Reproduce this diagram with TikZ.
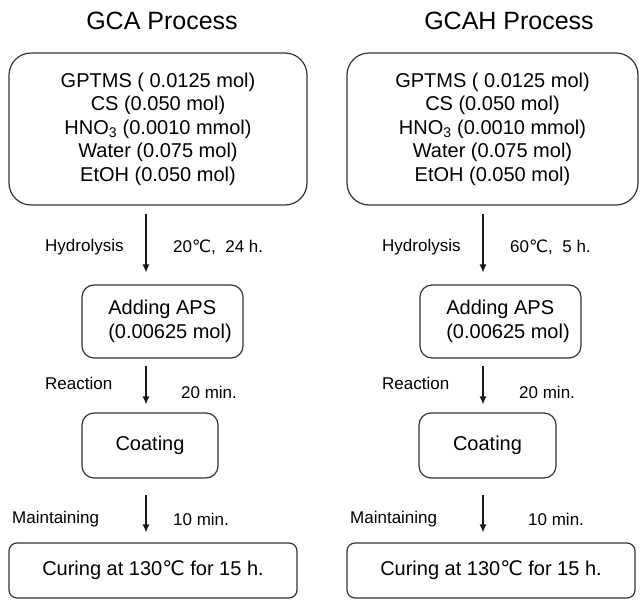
\documentclass[tikz,border=0pt]{standalone}
\usepackage{fontspec}
\setmainfont{Liberation Sans}
\newfontfamily\symfont{DejaVu Sans}
\usetikzlibrary{arrows.meta}
\newcommand{\degC}{{\symfont ℃}}
\newcommand{\bx}{\fontsize{20}{23.5}\selectfont}
\newcommand{\mixture}{GPTMS ( 0.0125 mol)\\CS (0.050 mol)\\HNO\textsubscript{3} (0.0010 mmol)\\Water (0.075 mol)\\EtOH (0.050 mol)}

\begin{document}
\begin{tikzpicture}[x=1pt,y=-1pt,
   ttl/.style={font=\fontsize{25}{30}\selectfont,text=black},
   mixbox/.style={draw=black!80,line width=1.2pt,rounded corners=22pt,inner sep=0pt,
      minimum height=152pt,align=center,font=\bx,text=black},
   stepbox/.style={draw=black!80,line width=1.2pt,rounded corners=12pt,inner sep=0pt,
      align=left,font=\bx,text=black},
   cond/.style={font=\fontsize{17}{20}\selectfont,inner sep=0pt,anchor=west,text=black},
   flow/.style={-{Latex[length=8pt,width=7pt]},line width=1.1pt,black!90}]
   \useasboundingbox (0,0) rectangle (641,600);
   % left column
   \node[ttl] (ttlA) at (162,21) {GCA Process};
   \node[mixbox,minimum width=298pt] (mixA) at (158,129) {\mixture};
   \node[stepbox,minimum width=161pt,minimum height=73pt] (apsA) at (162.5,321.5) {\hspace*{15pt}Adding APS\\\hspace*{15pt}(0.00625 mol)};
   \node[stepbox,minimum width=136pt,minimum height=65pt] (coatA) at (150,445.5) {Coating};
   \node[stepbox,rounded corners=8pt,minimum width=288pt,minimum height=55pt] (cureA) at (153,570.5) {Curing at 130\degC\ for 15 h.};
   \coordinate (axA) at (146,0);
   \draw[flow,shorten <=8pt,shorten >=12pt] (mixA.south -| axA) -- (apsA.north -| axA);
   \draw[flow,shorten <=7pt,shorten >=8pt] (apsA.south -| axA) -- (coatA.north -| axA);
   \draw[flow,shorten <=16pt,shorten >=10pt] (coatA.south -| axA) -- (cureA.north -| axA);
   \node[cond] (hydA) at (45,247) {Hydrolysis};
   \node[cond] (tempA) at (173,247) {20\degC,\ \ 24 h.};
   \node[cond] (reacA) at (45,383) {Reaction};
   \node[cond] (minA) at (181,392) {20 min.};
   \node[cond] (mainA) at (12,519) {Maintaining};
   \node[cond] (holdA) at (173,519) {10 min.};
   % right column
   \node[ttl] (ttlB) at (509,21) {GCAH Process};
   \node[mixbox,minimum width=291pt] (mixB) at (492.5,129) {\mixture};
   \node[stepbox,minimum width=161pt,minimum height=73pt] (apsB) at (500.5,321.5) {\hspace*{15pt}Adding APS\\\hspace*{15pt}(0.00625 mol)};
   \node[stepbox,minimum width=137pt,minimum height=65pt] (coatB) at (487.5,445.5) {Coating};
   \node[stepbox,rounded corners=8pt,minimum width=288pt,minimum height=55pt] (cureB) at (491,570.5) {Curing at 130\degC\ for 15 h.};
   \coordinate (axB) at (483,0);
   \draw[flow,shorten <=8pt,shorten >=12pt] (mixB.south -| axB) -- (apsB.north -| axB);
   \draw[flow,shorten <=7pt,shorten >=8pt] (apsB.south -| axB) -- (coatB.north -| axB);
   \draw[flow,shorten <=16pt,shorten >=10pt] (coatB.south -| axB) -- (cureB.north -| axB);
   \node[cond] (hydB) at (382,247) {Hydrolysis};
   \node[cond] (tempB) at (510,247) {60\degC,\ \ 5 h.};
   \node[cond] (reacB) at (382,383) {Reaction};
   \node[cond] (minB) at (519,392) {20 min.};
   \node[cond] (mainB) at (350,519) {Maintaining};
   \node[cond] (holdB) at (528,519) {10 min.};
\end{tikzpicture}
\end{document}
